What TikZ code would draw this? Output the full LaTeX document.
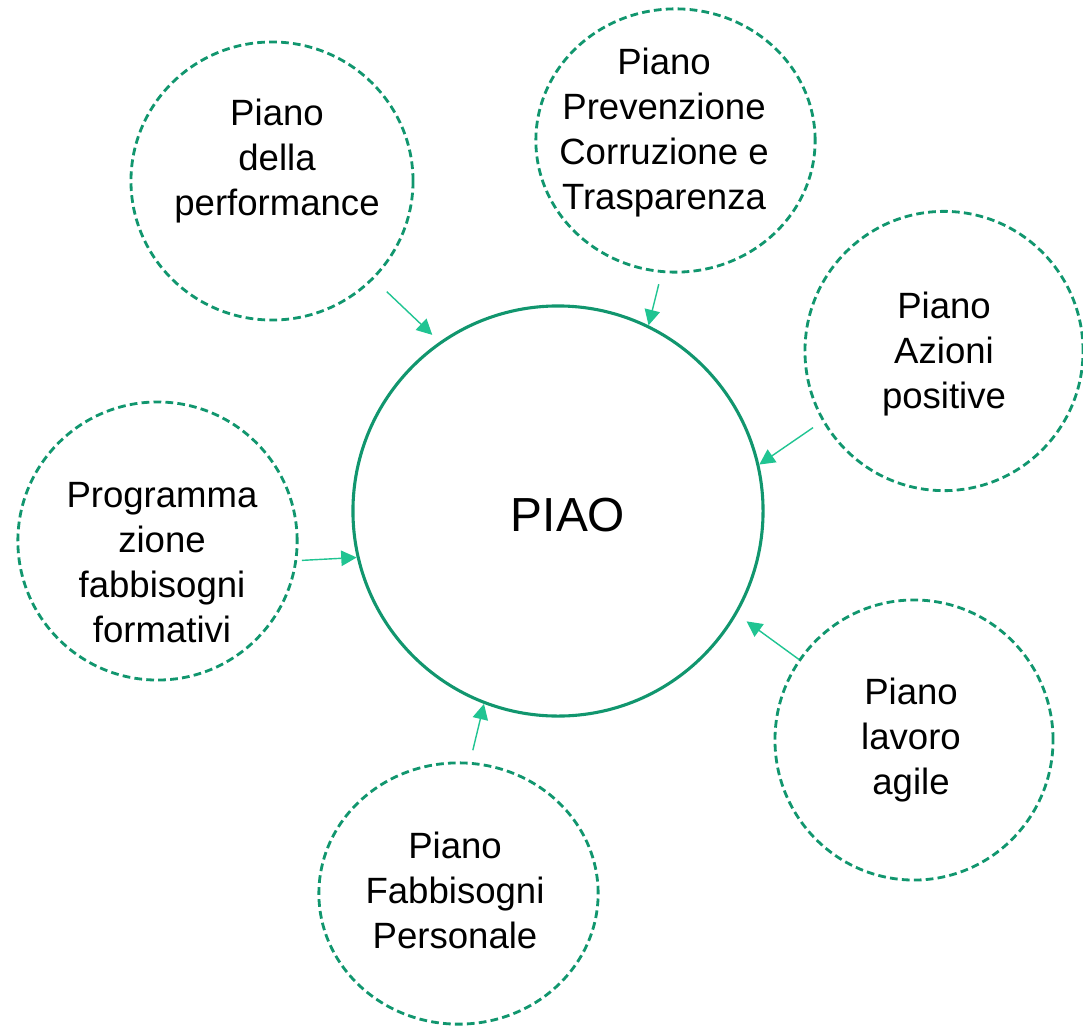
\documentclass[tikz,border=0pt]{standalone}
\usepackage{fontspec}
\setmainfont{Liberation Sans}
\usetikzlibrary{arrows.meta,shapes.geometric}

\definecolor{piaogreen}{RGB}{17,150,110}
\definecolor{feedgreen}{RGB}{32,196,146}

\begin{document}
\begin{tikzpicture}[x=0.025cm, y=-0.025cm,
  bubble/.style={draw=piaogreen, ellipse, line width=2pt, dash pattern=on 5.5pt off 3pt, inner sep=0pt},
  bubbletext/.style={align=center, font=\fontsize{26}{32}\selectfont},
  feed/.style={draw=feedgreen, line width=1pt, -{Triangle[length=11pt,width=11pt]}}]
  \useasboundingbox (0,0) rectangle (1083,1026);

  % centre
  \node[draw=piaogreen, circle, line width=2.2pt, minimum size=10.25cm] (piao) at (558,511) {};
  \node[font=\fontsize{34}{40}\selectfont] (piao-t) at (568,515) {PIAO};

  % surrounding plans
  \node[bubble, minimum width=7.05cm, minimum height=6.95cm] (perf) at (272,181) {};
  \node[bubbletext] (perf-t) at (277,161) {Piano\\della\\performance};
  \node[bubble, minimum width=6.98cm, minimum height=6.58cm] (prev) at (675.5,140.5) {};
  \node[bubbletext] (prev-t) at (664,133) {Piano\\Prevenzione\\Corruzione e\\Trasparenza};
  \node[bubble, minimum width=6.95cm, minimum height=6.98cm] (azioni) at (944,351) {};
  \node[bubbletext] (azioni-t) at (944,354) {Piano\\Azioni\\positive};
  \node[bubble, minimum width=6.98cm, minimum height=6.95cm] (prog) at (157.5,541) {};
  \node[bubbletext] (prog-t) at (162,563) {Programma\\zione\\fabbisogni\\formativi};
  \node[bubble, minimum width=6.95cm, minimum height=7cm] (agile) at (914,740) {};
  \node[bubbletext] (agile-t) at (911,740) {Piano\\lavoro\\agile};
  \node[bubble, minimum width=6.98cm, minimum height=6.53cm] (fabb) at (458.5,893.5) {};
  \node[bubbletext] (fabb-t) at (455,890) {Piano\\Fabbisogni\\Personale};

  \draw[feed, shorten <=0.45cm, shorten >=0.25cm] (perf.-44.5) -- (piao.125.8);
  \draw[feed, shorten <=0.29cm] (prev.264.8) -- (piao.64.2);
  \draw[feed, shorten <=0.28cm] (azioni.210.8) -- (piao.13.6);
  \draw[feed, shorten <=0.12cm] (prog.-8) -- (piao.193);
  \draw[feed, shorten >=0.3cm] (agile.145.9) -- (piao.-30.1);
  \draw[feed, shorten <=0.3cm] (fabb.85.8) -- (piao.249.6);
\end{tikzpicture}
\end{document}
